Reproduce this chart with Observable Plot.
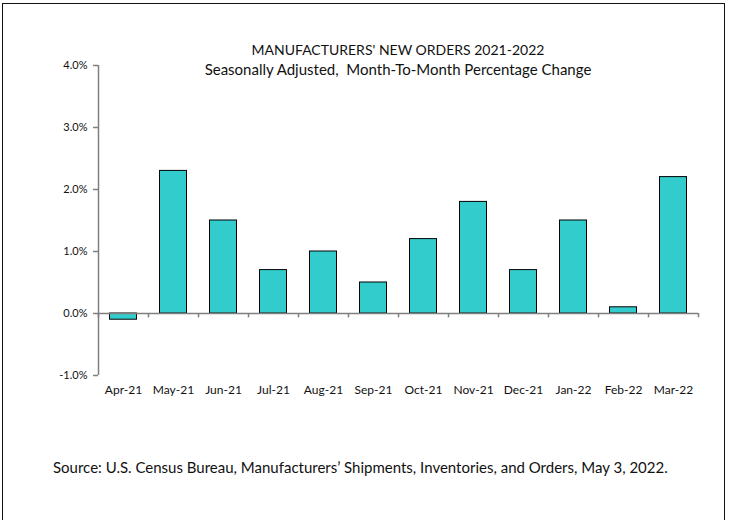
<!DOCTYPE html>
<html>
<head>
<meta charset="utf-8">
<script src="https://cdn.jsdelivr.net/npm/d3@7"></script>
<script src="https://cdn.jsdelivr.net/npm/@observablehq/plot@0.6"></script>
<style>
  html, body { margin: 0; padding: 0; background: #fff; overflow: hidden; }
  #wrap { position: relative; width: 731px; height: 520px; font-family: Lato, "Open Sans", sans-serif; color: #111; }
  #frame { position: absolute; left: 2px; top: 3px; width: 723px; height: 530px; border: 1.5px solid #111; box-sizing: border-box; }
  .t { position: absolute; white-space: nowrap; }
  #title { left: 98px; width: 600px; text-align: center; top: 41px; font-size: 14px; }
  #subtitle { left: 98px; width: 600px; text-align: center; top: 60px; font-size: 15px; }
  #source { left: 53px; top: 458px; font-size: 15px; }
  #chart { position: absolute; left: 0; top: 0; }
</style>
</head>
<body>
<div id="wrap">
  <div id="frame"></div>
  <div id="chart"></div>
  <div class="t" id="title">MANUFACTURERS' NEW ORDERS 2021-2022</div>
  <div class="t" id="subtitle">Seasonally Adjusted,&nbsp; Month-To-Month Percentage Change</div>
  <div class="t" id="source">Source: U.S. Census Bureau, Manufacturers’ Shipments, Inventories, and Orders, May 3, 2022.</div>
</div>
<script>
const months = ["Apr-21","May-21","Jun-21","Jul-21","Aug-21","Sep-21","Oct-21","Nov-21","Dec-21","Jan-22","Feb-22","Mar-22"];
const changes = [-0.1, 2.3, 1.5, 0.7, 1.0, 0.5, 1.2, 1.8, 0.7, 1.5, 0.1, 2.2];
const yTicks = [-1, 0, 1, 2, 3, 4];

const data = months.map((m, i) => ({month: m, i, value: changes[i]}));
const bounds = d3.range(months.length + 1);
const axisGray = "#7f7f7f";

const chart = Plot.plot({
  width: 731,
  height: 520,
  marginLeft: 98,
  marginRight: 33,
  marginTop: 65,
  marginBottom: 145,
  style: {background: "transparent", fontFamily: "Lato, 'Open Sans', sans-serif", color: "#111"},
  x: {type: "linear", domain: [0, months.length], axis: null},
  y: {domain: [-1, 4], axis: null},
  marks: [
    Plot.ruleX([0], {y1: -1, y2: 4, stroke: axisGray, strokeWidth: 1.5}),
    Plot.axisY(yTicks, {anchor: "left", label: null, tickSize: 5, tickPadding: 6, fontSize: 11, stroke: axisGray, strokeWidth: 1.5, tickFormat: d => d.toFixed(1) + "%"}),
    Plot.rect(data, {x1: "i", x2: d => d.i + 1, y1: 0, y2: "value", insetLeft: 11.5, insetRight: 11.5, fill: "#33CCCC", stroke: "#000", strokeWidth: 1}),
    Plot.ruleY([0], {x1: 0, x2: months.length, stroke: axisGray, strokeWidth: 1.5}),
    Plot.ruleX(bounds, {y1: 0, y2: -0.07, stroke: axisGray, strokeWidth: 1.5}),
    Plot.text(data, {x: d => d.i + 0.5, frameAnchor: "bottom", dy: 18, text: "month", fontSize: 12, fill: "#111"})
  ]
});
document.getElementById("chart").appendChild(chart);
</script>
</body>
</html>
